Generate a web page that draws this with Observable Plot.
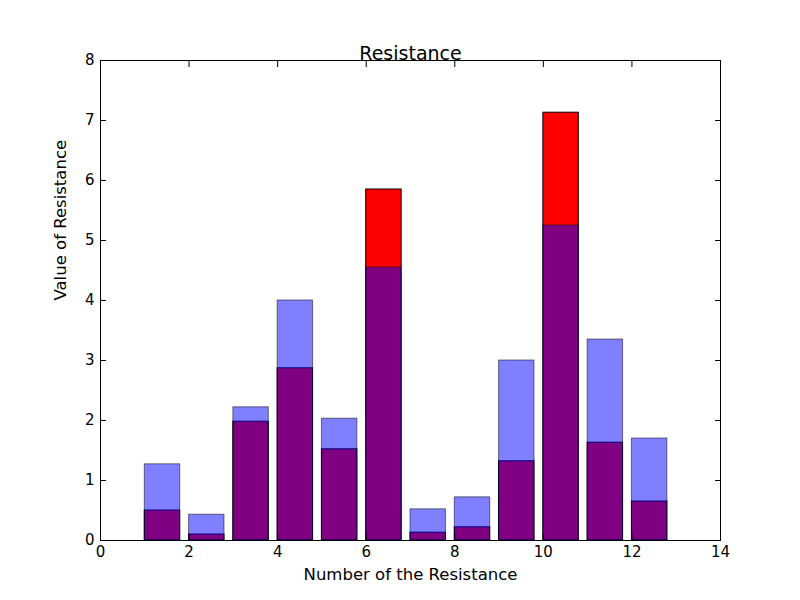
<!DOCTYPE html>
<html><head>
<script src="https://cdn.jsdelivr.net/npm/d3@7"></script>
<script src="https://cdn.jsdelivr.net/npm/@observablehq/plot@0.6"></script>
<style>body{margin:0;background:#fff} svg{font-family:"DejaVu Sans",sans-serif}</style>
</head><body><div id="c"></div>
<script>
const idx = [1,2,3,4,5,6,7,8,9,10,11,12];
const redVals = [0.5,0.1,1.98,2.87,1.52,5.85,0.13,0.22,1.32,7.13,1.63,0.65];
const blueVals = [1.27,0.43,2.22,4.0,2.03,4.55,0.52,0.72,3.0,5.25,3.35,1.7];
const xTicks = [0,2,4,6,8,10,12,14];
const yTicks = [0,1,2,3,4,5,6,7,8];
const red = idx.map((n,i)=>({x1:n,x2:n+0.8,y:redVals[i]}));
const blue = idx.map((n,i)=>({x1:n,x2:n+0.8,y:blueVals[i]}));
const chart = Plot.plot({
  width:800,height:600,marginLeft:100,marginRight:80,marginTop:60,marginBottom:60,
  style:{fontSize:"15px",fontFamily:"DejaVu Sans"},
  x:{domain:[0,14]}, y:{domain:[0,8]},
  marks:[
    Plot.rectY(red,{x1:"x1",x2:"x2",y:"y",fill:"red",stroke:"black",strokeWidth:1}),
    Plot.rectY(blue,{x1:"x1",x2:"x2",y:"y",fill:"blue",fillOpacity:0.5,stroke:"black",strokeOpacity:0.5,strokeWidth:1}),
    Plot.axisX({ticks:xTicks,tickSize:-6,tickPadding:12,label:null,fontSize:15}),
    Plot.axisX({anchor:"top",ticks:xTicks,tickSize:-6,text:null,label:null}),
    Plot.axisY({ticks:yTicks,tickSize:-6,tickPadding:12,label:null,fontSize:15}),
    Plot.axisY({anchor:"right",ticks:yTicks,tickSize:-6,text:null,label:null}),
    Plot.frame({stroke:"black"}),
    Plot.text(["Resistance"],{frameAnchor:"top",dy:-14,fontSize:19}),
    Plot.text(["Number of the Resistance"],{frameAnchor:"bottom",dy:39,fontSize:16.5}),
    Plot.text(["Value of Resistance"],{frameAnchor:"left",dx:-40,rotate:-90,fontSize:16.5})
  ]
});
document.getElementById("c").append(chart);
</script></body></html>
